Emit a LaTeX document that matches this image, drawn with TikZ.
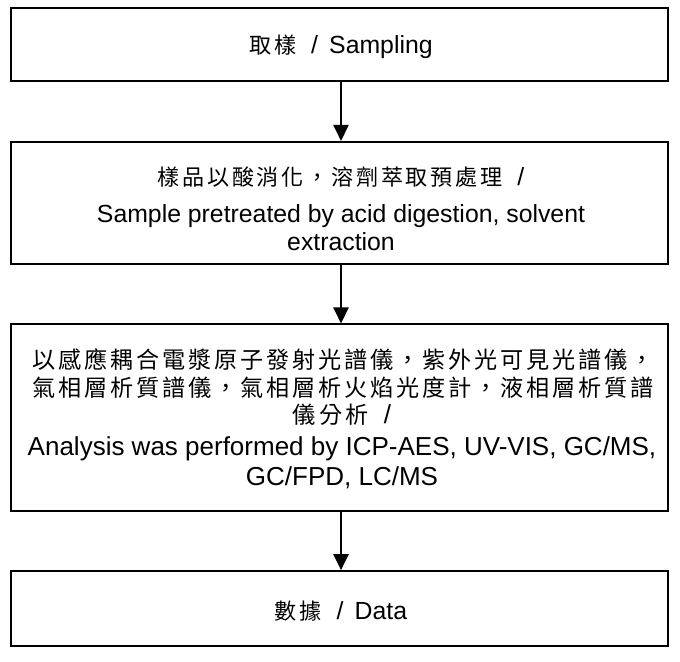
\documentclass[tikz,border=0pt]{standalone}
\usepackage{fontspec}
\setmainfont{Liberation Sans}
\newfontfamily\cjk[Scale=0.89,LetterSpace=12.5]{Noto Sans CJK TC}
\usetikzlibrary{arrows.meta}
\newcommand{\slsep}{\hspace{0.6em}/\hspace{0.45em}}
\begin{document}
\begin{tikzpicture}[x=0.75pt,y=-0.75pt,
  boxnode/.style={draw, line width=1.4pt, rectangle, inner sep=0pt, minimum width=493pt},
  txt/.style={font=\fontsize{18.6pt}{22pt}\selectfont, inner sep=0pt, text height=16.7pt, text depth=2.8pt},
  bigtxt/.style={font=\fontsize{19.5pt}{23pt}\selectfont, inner sep=0pt, text height=17.5pt, text depth=3pt},
  arr/.style={line width=1.2pt, -{Triangle[length=12pt, width=11.5pt]}}]
\useasboundingbox (0,0) rectangle (680,661);
% boxes
\node[boxnode, minimum height=54.6pt] (b1) at (339.35,44.2) {};
\node[boxnode, minimum height=91.65pt] (b2) at (339.35,202.9) {};
\node[boxnode, minimum height=139.8pt] (b3) at (339.35,417.5) {};
\node[boxnode, minimum height=56.25pt] (b4) at (339.35,608.5) {};
% texts
\node[txt] (t1) at (341,44.2) {{\cjk 取樣}\slsep Sampling};
\node[txt] (t2a) at (341,176) {{\cjk 樣品以酸消化，溶劑萃取預處理}\slsep};
\node[txt] (t2b) at (341,213) {Sample pretreated by acid digestion, solvent};
\node[txt] (t2c) at (341,241) {extraction};
\node[bigtxt] (t3a) at (343,359) {{\cjk 以感應耦合電漿原子發射光譜儀，紫外光可見光譜儀，}};
\node[bigtxt] (t3b) at (343,386.5) {{\cjk 氣相層析質譜儀，氣相層析火焰光度計，液相層析質譜}};
\node[bigtxt] (t3c) at (342,414) {{\cjk 儀分析}\slsep};
\node[bigtxt] (t3d) at (342,446) {Analysis was performed by ICP-AES, UV-VIS, GC/MS,};
\node[bigtxt] (t3e) at (342,476) {GC/FPD, LC/MS};
\node[txt] (t4) at (341,610) {{\cjk 數據}\slsep Data};
% connectors
\draw[arr] (b1.south -| t1.center) -- (b2.north -| t1.center);
\draw[arr] (b2.south -| t1.center) -- (b3.north -| t1.center);
\draw[arr] (b3.south -| t1.center) -- (b4.north -| t1.center);
\end{tikzpicture}
\end{document}
